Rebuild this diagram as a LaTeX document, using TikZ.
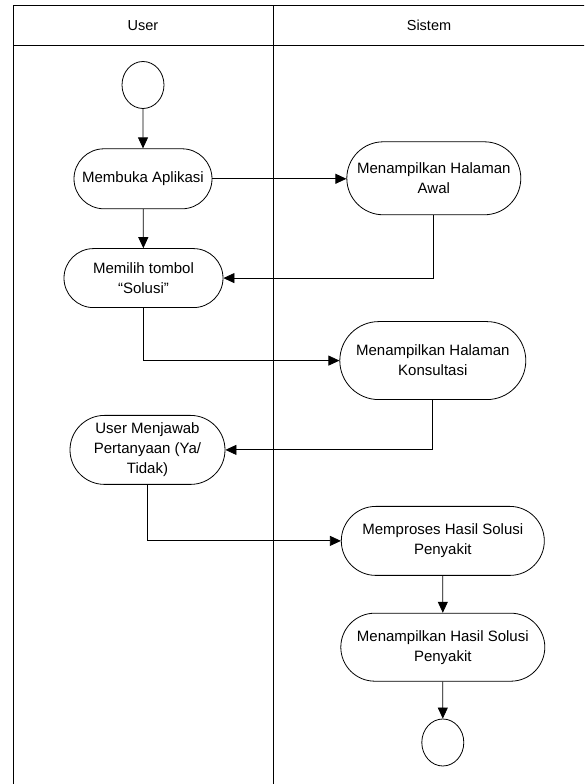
\documentclass[tikz,border=0pt]{standalone}
\usepackage{fontspec}
\setmainfont{Liberation Sans}
\usetikzlibrary{shapes.geometric, shapes.misc, arrows.meta, positioning}
\tikzset{
  act/.style    = {rounded rectangle, draw, line width=0.8pt, fill=white,
                   align=center, font=\fontsize{15}{20}\selectfont, inner sep=2pt},
  init/.style   = {ellipse, draw, line width=0.8pt, fill=white,
                   minimum width=42pt, minimum height=47pt, inner sep=0pt},
  lane/.style   = {font=\fontsize{14.5}{17}\selectfont},
  flow/.style   = {-{Triangle[length=11pt, width=10pt]}, line width=0.8pt},
  frame/.style  = {line width=1pt},
}
\begin{document}
\begin{tikzpicture}[x=1pt, y=1pt]
  \useasboundingbox (0,0) rectangle (584,784);
  \clip (0,0) rectangle (584,784);
  % swimlanes
  \draw[frame] (13,-5) rectangle (586,778.3);
  \draw[frame] (13,738.3) -- (586,738.3);
  \draw[frame] (273,778.3) -- (273,-5);
  \node[lane] (luser) at (143,758.3) {User};
  \node[lane] (lsis) at (429,758.3) {Sistem};

  % activities
  \node[init] (start) at (143,699) {};
  \node[act, below=39.5pt of start, minimum width=142pt, minimum height=60pt] (buka) {Membuka Aplikasi};
  \node[act, below=39pt of buka, xshift=0.5pt, minimum width=163pt, minimum height=59pt] (pilih) {Memilih tombol\\“Solusi”};
  \node[act, right=134pt of buka, yshift=0.5pt, minimum width=178pt, minimum height=73pt] (awal) {Menampilkan Halaman\\Awal};
  \node[act, below=106pt of awal, xshift=-1pt, minimum width=190pt, minimum height=78pt] (konsul) {Menampilkan Halaman\\Konsultasi};
  \node[act, below=107pt of pilih, xshift=4pt, minimum width=159pt, minimum height=69pt] (jawab) {User Menjawab\\Pertanyaan (Ya/\\Tidak)};
  \node[act, below=106pt of konsul, xshift=10pt, minimum width=207pt, minimum height=69pt] (proses) {Memproses Hasil Solusi\\Penyakit};
  \node[act, below=37pt of proses, minimum width=208pt, minimum height=68pt] (hasil) {Menampilkan Hasil Solusi\\Penyakit};
  \node[init, below=37pt of hasil] (stop) {};

  % connectors
  \draw[flow] (start) -- (buka);
  \draw[flow] (buka) -- (pilih);
  \draw[flow] (buka.east) -- (buka.east -| awal.west);
  \draw[flow] (awal.south) |- (pilih.east);
  \draw[flow] (pilih.south) |- (konsul.west);
  \draw[flow] (konsul.south) |- (jawab.east);
  \draw[flow] (jawab.south) |- (proses.west);
  \draw[flow] (proses) -- (hasil);
  \draw[flow] (hasil) -- (stop);
\end{tikzpicture}
\end{document}
